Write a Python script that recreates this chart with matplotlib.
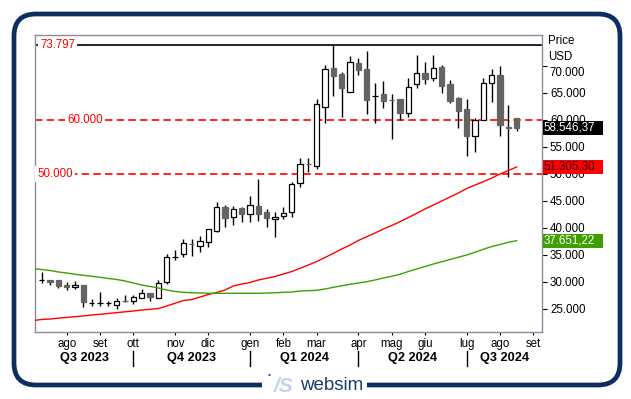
import numpy as np
import pandas as pd
import matplotlib
matplotlib.use("Agg")
import matplotlib.pyplot as plt
from matplotlib.patches import Rectangle, FancyBboxPatch
from matplotlib.lines import Line2D
from matplotlib.transforms import blended_transform_factory, IdentityTransform, ScaledTranslation

plt.rcParams['font.family'] = ['Liberation Sans', 'DejaVu Sans']

# ---------------- data ----------------
first_week = "2023-07-17"   # weekly candles (Monday dates)

opens = [30300, 30310, 30370, 29500, 29129, 29500, 26100, 26160, 26100, 25741,
         26500, 26537, 26981, 27963, 26981, 29944, 34560, 35185, 37050, 36611,
         37463, 39500, 43944, 42037, 43648, 42592, 44074, 42907, 41611, 42222,
         42907, 48278, 51820, 51537, 62463, 69574, 68518, 65241, 70500, 69444,
         64430, 64815, 63720, 63833, 61352, 66666, 68759, 67778, 69759, 66666,
         64074, 62037, 57092, 59944, 66796, 68333, 58650, 60315]
highs = [31907, 30320, 30370, 29944, 30129, 29500, 26852, 28092, 26537, 26981,
         27592, 27592, 28648, 27963, 30370, 35185, 35926, 37963, 38018, 38518,
         39759, 44870, 44259, 44129, 43944, 45981, 49018, 43518, 42907, 43833,
         48518, 52907, 52907, 63833, 70185, 73797, 68833, 71852, 71426, 72778,
         66796, 67222, 64815, 63833, 67722, 72037, 70741, 72037, 70185, 67407,
         64315, 63833, 60315, 67722, 69444, 70055, 62778, 60315]
lows = [29870, 29440, 28833, 28463, 28703, 25426, 25611, 25611, 25611, 25000,
        26296, 25926, 26981, 26537, 26981, 29574, 34074, 34574, 34870, 35611,
        36537, 39315, 40129, 40555, 41166, 41166, 41352, 40129, 38389, 41611,
        42092, 47537, 50426, 50870, 59389, 64500, 60611, 65241, 68333, 61111,
        59500, 62278, 56426, 60000, 60611, 65870, 66611, 67222, 64944, 63203,
        58463, 53389, 54129, 59944, 63389, 57092, 49389, 58018]
closes = [30330, 30060, 29259, 29018, 29500, 26241, 26120, 26170, 26110, 26481,
          26480, 27166, 27963, 27166, 29759, 34574, 34580, 37166, 37030, 37592,
          39759, 43833, 41796, 43518, 42537, 44259, 42537, 41796, 41981, 42722,
          48092, 51796, 51790, 62907, 69389, 68203, 65981, 70796, 69259, 63703,
          64450, 63574, 63700, 61241, 66055, 68648, 67648, 69574, 66352, 63574,
          61722, 57092, 60000, 66796, 68333, 59074, 58500, 58546.37]

# moving averages, starting one week before the first visible candle
ma_red = [22870, 23060, 23150, 23300, 23440, 23570, 23720, 23890, 24020, 24170,
          24330, 24480, 24630, 24800, 24940, 25090, 25560, 26060, 26570, 26760,
          27220, 27690, 28060, 28520, 29260, 29630, 29910, 30370, 30690, 31020,
          31480, 31940, 32540, 33150, 33800, 34540, 35320, 36110, 36850, 37690,
          38390, 39070, 39820, 40460, 41170, 41940, 42720, 43520, 44260, 45000,
          45740, 46480, 47315, 47963, 48574, 49259, 50000, 50648, 51305.30]
ma_green = [32463, 32315, 32130, 31852, 31667, 31426, 31241, 31056, 30870, 30648,
            30463, 30185, 29815, 29444, 29167, 28889, 28519, 28241, 28093, 28000,
            27963, 27907, 27907, 27907, 27907, 27907, 27907, 27907, 27963, 28000,
            28093, 28148, 28333, 28389, 28463, 28704, 29019, 29296, 29574, 29815,
            30056, 30370, 30741, 31056, 31426, 31944, 32407, 32870, 33333, 33741,
            34167, 34593, 35000, 35519, 36056, 36574, 36944, 37352, 37651.22]

max_level = 73797
dashed_levels = [60000, 50000]
level_labels = ["60.000", "50.000"]
max_label = "73.797"

month_names = ["ago", "set", "ott", "nov", "dic", "gen", "feb", "mar",
               "apr", "mag", "giu", "lug", "ago", "set"]
month_starts = pd.date_range("2023-08-01", "2024-09-01", freq="MS")
quarter_labels = ["Q3 2023", "Q4 2023", "Q1 2024", "Q2 2024", "Q3 2024"]
quarter_starts = pd.to_datetime(["2023-10-01", "2024-01-01", "2024-04-01", "2024-07-01"])

# ---------------- figure ----------------
W, H = 631, 399
fig = plt.figure(figsize=(W / 100, H / 100), dpi=100)
fig.patch.set_facecolor("white")

def fx(px):
    return px / W

def fy(py):
    return 1 - py / H

ax_l, ax_r, ax_t, ax_b = 35.3, 542.3, 34.7, 332.3
ax = fig.add_axes([fx(ax_l), fy(ax_b), fx(ax_r - ax_l), (ax_b - ax_t) / H])

n = len(opens)
O = np.array(opens, float); Hh = np.array(highs, float)
L = np.array(lows, float); C = np.array(closes, float)
dates = pd.date_range(first_week, periods=n + 6, freq="W-MON")
x = np.arange(n)

xmin, xmax = -0.77, 60.07
ax.set_xlim(xmin, xmax)
ax.set_ylim(20685, 75796)

# candles
up = C >= O
ax.vlines(x, L, Hh, color="black", lw=1.0, zorder=2)
body_bottom = np.minimum(O, C)
body_h = np.abs(C - O)
face = np.where(up, "white", "#646464")
edge = np.where(up, "black", "#646464")
ax.bar(x, body_h, bottom=body_bottom, width=0.62, color=face, edgecolor=edge,
       linewidth=0.9, zorder=3)

# moving averages
xm = np.arange(-1, n)
ax.plot(xm, ma_red, color="#ff0000", lw=1.0, zorder=4)
ax.plot(xm, ma_green, color="#3f9f00", lw=1.0, zorder=4)

# level lines
ax.axhline(max_level, color="black", lw=1.2, zorder=1)
for lv in dashed_levels:
    ax.axhline(lv, color="#ff0000", lw=1.2, ls=(0, (4.5, 2.5)), zorder=1)

bt = blended_transform_factory(ax.transAxes, ax.transData)
lab_bbox = dict(facecolor="white", edgecolor="none", pad=1.5)
ax.text((40 - ax_l) / (ax_r - ax_l), max_level, max_label, transform=bt,
        color="#ff0000", fontsize=8.3, va="center", ha="left", bbox=lab_bbox, zorder=5)
for lv, lab, px in zip(dashed_levels, level_labels, [67, 37]):
    ax.text((px - ax_l) / (ax_r - ax_l), lv, lab, transform=bt,
            color="#ff0000", fontsize=8.3, va="center", ha="left", bbox=lab_bbox, zorder=5)

# axes styling
for s in ax.spines.values():
    s.set_color("#8c8c9c")
    s.set_linewidth(1.0)

yt = np.arange(25000, 70001, 5000)
ax.yaxis.tick_right()
ax.set_yticks(yt, labels=[f"{v:,.0f}".replace(",", ".") for v in yt])
ax.tick_params(axis="y", direction="out", length=3.5, width=0.8, pad=2,
               labelsize=8.3, colors="black")
# shift the top label slightly down (as in the reference, below the "USD" header)
for t in ax.get_yticklabels():
    if t.get_text() == "70.000":
        t.set_transform(t.get_transform() + ScaledTranslation(0, -6 / 100, fig.dpi_scale_trans))

month_pos = np.searchsorted(dates.values, month_starts.values, side="right")
ax.set_xticks(month_pos, labels=month_names)
ax.tick_params(axis="x", direction="out", length=2.5, width=0.8, pad=1.5,
               labelsize=8.3, colors="black")

# quarter labels and separators
bx = blended_transform_factory(ax.transData, fig.transFigure)
q_pos = np.searchsorted(dates.values, quarter_starts.values, side="right")
bounds = [xmin] + list(q_pos) + [xmax]
for i, lab in enumerate(quarter_labels):
    fig.text((bounds[i] + bounds[i + 1]) / 2, fy(358.5), lab, transform=bx,
             ha="center", va="center", fontsize=9.2, fontweight="bold")
for qp in q_pos:
    fig.add_artist(Line2D([qp, qp], [fy(351), fy(366)], transform=bx,
                          color="black", lw=1.0))

# header on right
fig.text(fx(548), fy(41), "Price", fontsize=8.3, va="center", ha="left")
fig.text(fx(548), fy(57), "USD", fontsize=8.3, va="center", ha="left")

# value boxes
by = blended_transform_factory(fig.transFigure, ax.transData)
def fmt(v):
    return f"{v:,.2f}".replace(",", "X").replace(".", ",").replace("X", ".")
boxes = [(closes[-1], "black", "white"),
         (ma_red[-1], "#ff0000", "#300000"),
         (ma_green[-1], "#3f9f00", "white")]
for val, fc, tc in boxes:
    fig.add_artist(Rectangle((fx(543), val - 1300), fx(603) - fx(543), 2600,
                             transform=by, facecolor=fc, edgecolor="none", zorder=5))
    fig.text(fx(543.5), val, fmt(val), transform=by, color=tc, fontsize=8.3,
             va="center", ha="left", zorder=6)

# outer frame
frame = FancyBboxPatch((14, H - 385), 606, 371,
                       boxstyle="round,pad=0,rounding_size=22",
                       transform=IdentityTransform(), facecolor="none",
                       edgecolor="#0d2f5f", linewidth=3.4, zorder=0)
fig.add_artist(frame)

# logo over the bottom frame line
fig.add_artist(Rectangle((262, H - 393), 105, 17, transform=IdentityTransform(),
                         facecolor="white", edgecolor="none", zorder=7))
fig.text(fx(274), fy(386), "/S", fontsize=15, fontweight="bold", style="italic",
         color="#c7d3e3", va="center", ha="left", zorder=8)
fig.text(fx(269), fy(376), "•", fontsize=6, color="#1c3d6b",
         va="center", ha="center", zorder=8)
fig.text(fx(300), fy(386), "websim", fontsize=13.5, color="#1c3d6b",
         va="center", ha="left", zorder=8)

fig.savefig("out.png", dpi=100, facecolor="white")
